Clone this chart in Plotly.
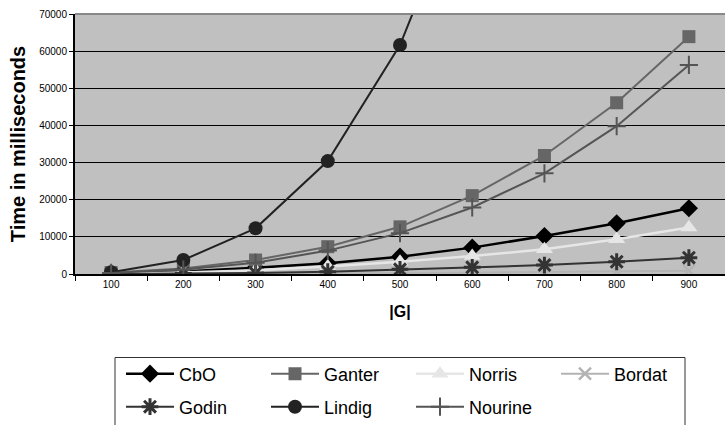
import plotly.graph_objects as go

sizes = [100, 200, 300, 400, 500, 600, 700, 800, 900]
size_labels = [str(s) for s in sizes]

cbo     = [100, 700, 1700, 2870, 4670, 7100, 10230, 13650, 17700]
ganter  = [400, 1500, 3770, 7350, 12700, 21100, 31900, 46100, 63900]
norris  = [50, 400, 1000, 2000, 3300, 4850, 6650, 9350, 12500]
bordat  = [10, 40, 90, 160, 250, 370, 520, 700, 900]
godin   = [30, 120, 300, 620, 1250, 1800, 2400, 3300, 4400]
lindig  = [500, 3770, 12300, 30400, 61650, 110000, None, None, None]
nourine = [300, 1200, 3000, 6300, 11000, 17900, 27100, 39800, 56300]

series = [
    ("CbO", cbo, "#000000", "diamond", 14, 2.5, None, "legend"),
    ("Ganter", ganter, "#666666", "square", 13, 2, None, "legend"),
    ("Norris", norris, "#e6e6e6", "triangle-up", 15, 2.5, None, "legend"),
    ("Bordat", bordat, "#b3b3b3", "x-thin", 12, 2, 2.5, "legend"),
    ("Godin", godin, "#333333", "asterisk", 14, 2, 3, "legend2"),
    ("Lindig", lindig, "#222222", "circle", 14, 2, None, "legend2"),
    ("Nourine", nourine, "#555555", "cross-thin", 13, 2, 2, "legend2"),
]

fig = go.Figure()
for name, vals, color, sym, msize, lw, mlw, leg in series:
    marker = dict(symbol=sym, size=msize, color=color)
    if mlw is not None:
        marker["line"] = dict(color=color, width=mlw)
    else:
        marker["line"] = dict(width=0)
    fig.add_trace(go.Scatter(
        x=size_labels, y=vals, name=name, mode="lines+markers",
        line=dict(color=color, width=lw), marker=marker,
        connectgaps=False, legend=leg,
    ))

legend_common = dict(
    orientation="h",
    xref="container", yref="container",
    xanchor="left", yanchor="middle",
    borderwidth=0,
    bgcolor="rgba(0,0,0,0)",
    font=dict(size=18, family="Liberation Sans, Arial, sans-serif"),
    entrywidth=82, entrywidthmode="pixels",
    itemwidth=48,
    traceorder="normal",
)

fig.update_layout(
    width=725, height=425,
    margin=dict(l=75, r=0, t=14, b=151),
    paper_bgcolor="white",
    plot_bgcolor="#c0c0c0",
    font=dict(family="Liberation Sans, Arial, sans-serif", color="black"),
    showlegend=True,
    legend=dict(legend_common, x=121/725, y=1-374/425),
    legend2=dict(legend_common, x=121/725, y=1-407/425),
    xaxis=dict(
        type="category",
        range=[-0.5, 8.5],
        showgrid=False,
        showline=True, linecolor="black", linewidth=2,
        ticks="outside", tickson="boundaries", ticklen=5, tickcolor="black",
        tickfont=dict(size=10),
        title=dict(text="<b>|G|</b>", font=dict(size=16), standoff=17),
        zeroline=False,
    ),
    yaxis=dict(
        range=[0, 70000],
        dtick=10000,
        tickformat="d",
        showgrid=True, gridcolor="black", gridwidth=1,
        showline=True, linecolor="black", linewidth=2,
        ticks="outside", ticklen=4, tickcolor="black",
        tickfont=dict(size=10),
        title=dict(text="<b>Time in milliseconds</b>", font=dict(size=20), standoff=8),
        zeroline=False,
    ),
)

# top border of plot area
fig.add_shape(type="line", xref="paper", yref="paper", x0=0, x1=1, y0=1, y1=1,
              line=dict(color="#888888", width=2), layer="above")
# legend frame (extends below the visible page, as in the reference)
fig.add_shape(type="rect", xref="paper", yref="paper",
              x0=(115 - 75) / 650, x1=(685 - 75) / 650,
              y0=(274 - 357.5) / 260, y1=(274 - 440) / 260,
              line=dict(color="#333333", width=1), fillcolor="rgba(0,0,0,0)")

fig.write_html("out.html")
